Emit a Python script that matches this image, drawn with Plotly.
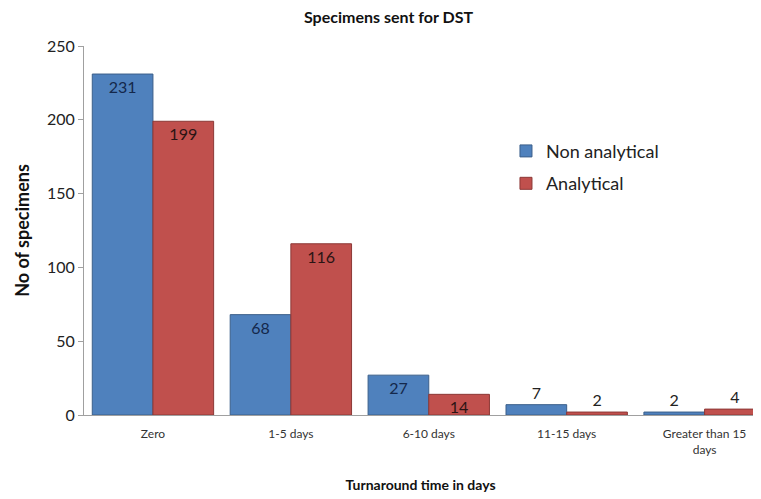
import plotly.graph_objects as go

categories = ["Zero", "1-5 days", "6-10 days", "11-15 days", "Greater than 15<br>days"]
non_analytical = [231, 68, 27, 7, 2]
analytical = [199, 116, 14, 2, 4]
y_ticks = [0, 50, 100, 150, 200, 250]

FONT = "Lato, Open Sans, sans-serif"


def text_positions(values):
    return ["inside" if v >= 10 else "outside" for v in values]


fig = go.Figure()
fig.add_trace(
    go.Bar(
        x=categories,
        y=non_analytical,
        name="Non analytical",
        legendgroup="a",
        marker=dict(color="#4F81BD", line=dict(color="#3B5F8A", width=1)),
        text=non_analytical,
        textposition=text_positions(non_analytical),
        insidetextanchor="end",
        textangle=0,
        constraintext="none",
        textfont=dict(color="#14284B", size=16, family=FONT),
        outsidetextfont=dict(color="#222222", size=16, family=FONT),
        cliponaxis=False,
    )
)
fig.add_trace(
    go.Bar(
        x=categories,
        y=analytical,
        name="Analytical",
        legendgroup="b",
        marker=dict(color="#C0504D", line=dict(color="#8C3836", width=1)),
        text=analytical,
        textposition=text_positions(analytical),
        insidetextanchor="end",
        textangle=0,
        constraintext="none",
        textfont=dict(color="#2A1414", size=16, family=FONT),
        outsidetextfont=dict(color="#222222", size=16, family=FONT),
        cliponaxis=False,
    )
)

# page body has an 8px margin, so the figure is laid out 8px up/left of the screenshot
fig.update_layout(
    width=761,
    height=499,
    margin=dict(l=76, r=12, t=38, b=92),
    plot_bgcolor="white",
    paper_bgcolor="white",
    barmode="group",
    bargap=0.12,
    bargroupgap=0,
    font=dict(family=FONT, color="#333333"),
    title=dict(
        text="<b>Specimens sent for DST</b>",
        x=0.5,
        xref="container",
        y=1,
        yref="container",
        yanchor="top",
        pad=dict(t=4),
        font=dict(size=16, color="#111111", family=FONT),
    ),
    legend=dict(
        x=0.627,
        y=0.765,
        xanchor="left",
        yanchor="top",
        font=dict(size=18, color="#222222", family=FONT),
        tracegroupgap=6,
        bgcolor="rgba(0,0,0,0)",
    ),
    uniformtext=dict(mode="show", minsize=16),
)
fig.update_xaxes(
    range=[-0.5, 4.38],
    showline=True,
    linecolor="#A0A0A0",
    linewidth=1,
    ticks="outside",
    ticklen=8,
    tickcolor="rgba(0,0,0,0)",
    tickfont=dict(size=12, color="#333333", family=FONT),
    title=dict(
        text="<b>Turnaround time in days</b>",
        font=dict(size=14, color="#111111", family=FONT),
        standoff=24,
    ),
)
fig.update_yaxes(
    range=[0, 250],
    tickvals=y_ticks,
    showgrid=False,
    zeroline=False,
    showline=True,
    linecolor="#A0A0A0",
    linewidth=1,
    ticks="outside",
    ticklen=5,
    tickcolor="#A0A0A0",
    tickfont=dict(size=16, color="#222222", family=FONT),
    title=dict(
        text="<b>No of specimens</b>",
        font=dict(size=18, color="#111111", family=FONT),
        standoff=12,
    ),
)

fig.write_html("out.html")
